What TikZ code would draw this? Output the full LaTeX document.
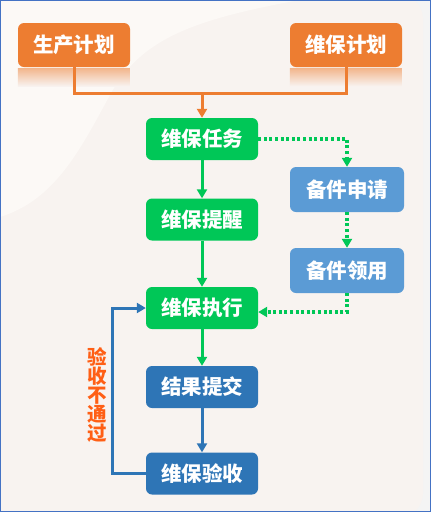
\documentclass[tikz,border=0pt]{standalone}
\usepackage{fontspec}
\newfontfamily\cjk{Noto Sans CJK SC}
\usetikzlibrary{arrows.meta}
\definecolor{planorange}{HTML}{ED7D31}
\definecolor{taskgreen}{HTML}{00C757}
\definecolor{partblue}{HTML}{5B9BD5}
\definecolor{checkblue}{HTML}{2E75B6}
\definecolor{failred}{HTML}{FF5F15}
\definecolor{panelbg}{HTML}{F8F3F0}
\definecolor{wavebg}{HTML}{FCF9F6}
\definecolor{outerbg}{HTML}{F4F4F4}
\definecolor{frameblue}{HTML}{4472C4}
\begin{document}
\begin{tikzpicture}[x=1pt, y=-1pt,
  box/.style={rounded corners=6pt, minimum width=112pt, minimum height=42pt, inner sep=0pt, text=white, font=\cjk\bfseries\fontsize{20.5}{24}\selectfont},
  planbox/.style={box, fill=planorange, minimum height=44pt},
  taskbox/.style={box, fill=taskgreen},
  partbox/.style={box, fill=partblue, minimum width=114pt, minimum height=45pt},
  checkbox/.style={box, fill=checkblue},
  tip/.style={-{Triangle[width=10pt,length=9pt]}},
  planline/.style={draw=planorange, line width=3pt},
  taskline/.style={draw=taskgreen, line width=3pt, tip},
  partline/.style={draw=taskgreen, line width=3.2pt, dash pattern=on 3pt off 2.6pt},
  checkline/.style={draw=checkblue, line width=3pt}]
\useasboundingbox (0,0) rectangle (431,512);
\fill[outerbg] (0,0) rectangle (431,512);
\fill[panelbg, rounded corners=25pt] (-30,-6) rectangle (423,518);
\begin{scope}
\clip[rounded corners=25pt] (-30,-6) rectangle (423,518);
\fill[wavebg] (0,0) -- (0,217) .. controls (55,200) and (80,150) .. (110,95) .. controls (140,40) and (190,20) .. (300,0) -- cycle;
\end{scope}
\draw[frameblue, line width=1.2pt] (0.6,0.6) rectangle (430.4,511.4);

\node[planbox] (prodplan) at (74,45) {生产计划};
\node[planbox] (maintplan) at (346,45) {维保计划};
\fill[top color=planorange!55!panelbg, bottom color=panelbg] (prodplan.south west) ++(0,1) rectangle ++(112,18);
\fill[top color=planorange!55!panelbg, bottom color=panelbg] (maintplan.south west) ++(0,1) rectangle ++(112,18);
\node[taskbox] (task) at (202,139) {维保任务};
\node[taskbox] (remind) at (202,219.5) {维保提醒};
\node[taskbox] (exec) at (202,308) {维保执行};
\node[checkbox] (submit) at (202,387) {结果提交};
\node[checkbox] (accept) at (202,473.5) {维保验收};
\node[partbox] (apply) at (347,189.5) {备件申请};
\node[partbox] (receive) at (347,270.5) {备件领用};
\node[text=failred, align=center, inner sep=0pt, font=\cjk\bfseries\fontsize{19.5}{19}\selectfont] (fail) at (97,394.5) {验\\收\\不\\通\\过};
\coordinate (join) at (202,93);
\coordinate (back) at (112,390);

\draw[planline] (prodplan.south) |- (join) -| (maintplan.south);
\draw[planline, tip] (join) -- (task);
\draw[taskline] (task) -- (remind);
\draw[taskline] (remind) -- (exec);
\draw[taskline] (exec) -- (submit);
\draw[checkline, tip] (submit) -- (accept);
\draw[checkline, tip] (accept.west) -| (back) |- (exec.west);
\draw[partline, tip] (task.east) -| (apply.north);
\draw[partline, tip] (apply) -- (receive);
\draw[partline, tip] (receive.south) |- ([yshift=-4pt]exec.east);

\end{tikzpicture}
\end{document}
